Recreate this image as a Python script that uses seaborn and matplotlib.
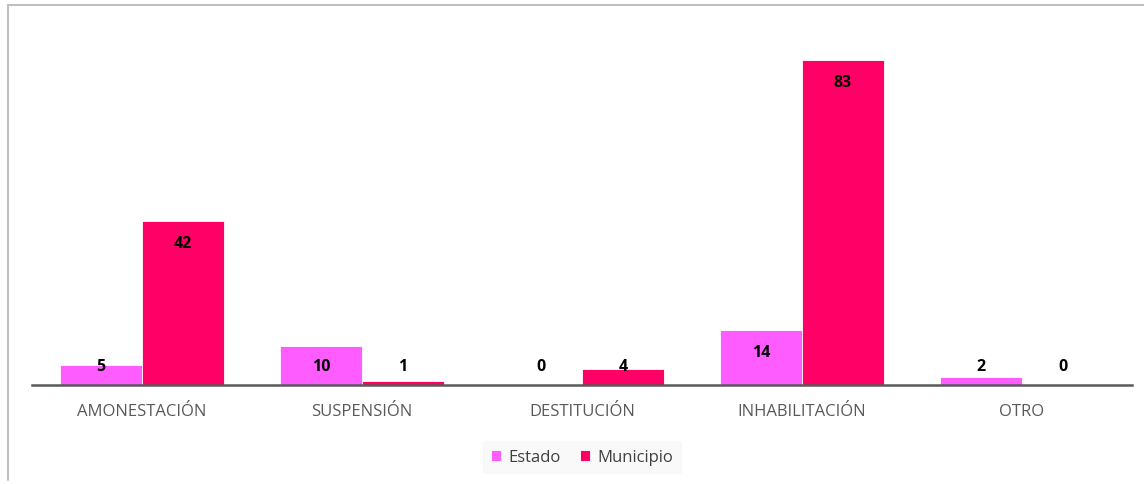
import numpy as np
import pandas as pd
import matplotlib.pyplot as plt
import seaborn as sns
from matplotlib.lines import Line2D

# ── Data ──────────────────────────────────────────────
categorias = ['AMONESTACIÓN', 'SUSPENSIÓN', 'DESTITUCIÓN', 'INHABILITACIÓN', 'OTRO']
estado = [5, 10, 0, 14, 2]
municipio = [42, 1, 4, 83, 0]
series = ['Estado', 'Municipio']
colores = ['#FF5CFF', '#FF0066']

df = pd.DataFrame({
    'Categoria': categorias * 2,
    'Serie': ['Estado'] * len(categorias) + ['Municipio'] * len(categorias),
    'Valor': estado + municipio,
})

# ── Plot ──────────────────────────────────────────────
sns.set_style('white')
plt.rcParams['font.family'] = ['Open Sans', 'DejaVu Sans']

fig = plt.figure(figsize=(11.44, 4.85), dpi=100)
ax = fig.add_axes([32 / 1144, (485 - 386) / 485, 1100 / 1144, 352 / 485])

sns.barplot(data=df, x='Categoria', y='Valor', hue='Serie', order=categorias,
            hue_order=series, palette=colores, width=0.745, saturation=1,
            edgecolor='white', linewidth=0.6, ax=ax)

ax.set_ylim(0, 90)
ax.set_xlim(-0.5, len(categorias) - 0.5)
ax.set_xlabel('')
ax.set_ylabel('')
ax.set_yticks([])
for s in ['top', 'right', 'left']:
    ax.spines[s].set_visible(False)
ax.spines['bottom'].set_color('#595959')
ax.spines['bottom'].set_linewidth(1.8)
ax.tick_params(axis='x', length=0, pad=13, labelsize=12, labelcolor='#595959')

# data labels
for cont in ax.containers:
    for rect in cont:
        h = rect.get_height()
        y = max(h - 5.6, 4.85)
        ax.text(rect.get_x() + rect.get_width() / 2, y, f'{int(h)}',
                ha='center', va='center', fontsize=11.5, fontweight='bold',
                color='black')

leg = ax.legend(loc='center', bbox_to_anchor=(0.5, -0.205), ncol=2, frameon=True,
                fontsize=12, handlelength=0.6, handleheight=0.6,
                handletextpad=0.4, columnspacing=1.2, borderpad=0.5)
leg.get_frame().set_facecolor('#F8F8F8')
leg.get_frame().set_edgecolor('#F8F8F8')
for t in leg.get_texts():
    t.set_color('#404040')

# outer border (top and left)
fig.add_artist(Line2D([8 / 1144, 1], [1 - 6 / 485, 1 - 6 / 485],
                      transform=fig.transFigure, color='#BFBFBF', lw=1.5))
fig.add_artist(Line2D([8 / 1144, 8 / 1144], [1 - 6 / 485, 4 / 485],
                      transform=fig.transFigure, color='#BFBFBF', lw=1.5))

plt.savefig('out.png', dpi=100)
